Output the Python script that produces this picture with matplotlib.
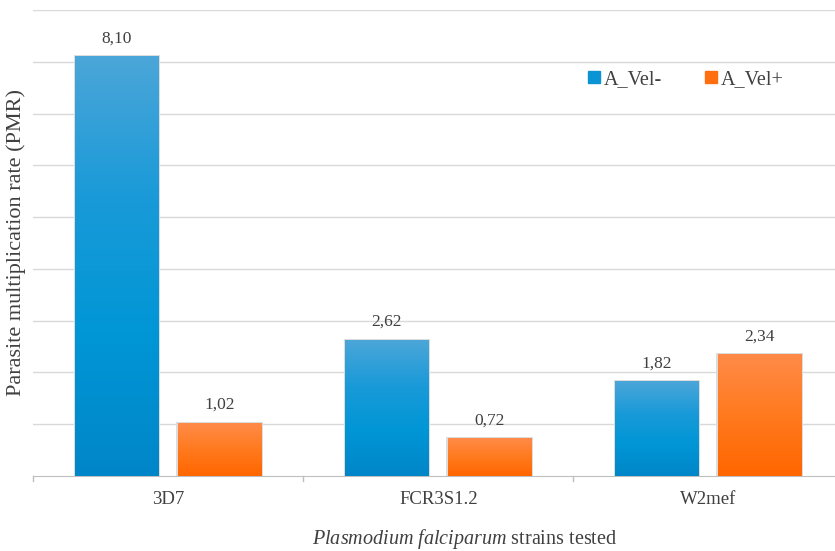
import matplotlib.pyplot as plt
import numpy as np
from matplotlib.colors import LinearSegmentedColormap
from matplotlib.lines import Line2D

plt.rcParams['font.family'] = ['Liberation Serif', 'DejaVu Serif']
plt.rcParams['mathtext.fontset'] = 'custom'
plt.rcParams['mathtext.rm'] = 'Liberation Serif'
plt.rcParams['mathtext.it'] = 'Liberation Serif:italic'

strains = ['3D7', 'FCR3S1.2', 'W2mef']
vel_minus = [8.10, 2.62, 1.82]
vel_plus = [1.02, 0.72, 2.34]
series_names = ['A_Vel-', 'A_Vel+']

blue_map = LinearSegmentedColormap.from_list('blue', ['#0086c8', '#0096d6', '#1a9ad8', '#4ba6d9'])
orange_map = LinearSegmentedColormap.from_list('orange', ['#ff6600', '#ff7a1e', '#ff8b48'])


def fmt(v):
    return f'{v:.2f}'.replace('.', ',')


fig = plt.figure(figsize=(8.35, 5.51), dpi=100)
ax = fig.add_axes([0.040, 0.136, 0.970, 0.846])

x = np.arange(len(strains))
w = 0.311
gap = 0.035
bars_a = ax.bar(x - w / 2 - gap, vel_minus, w, color='none', zorder=3)
bars_b = ax.bar(x + w / 2 + gap, vel_plus, w, color='none', zorder=3)

grad = np.linspace(0, 1, 256).reshape(-1, 1)
for bars, cmap in [(bars_a, blue_map), (bars_b, orange_map)]:
    for b in bars:
        x0, h = b.get_x(), b.get_height()
        # faint shadow around the bar
        ax.bar(x0 + b.get_width() / 2, h + 0.03, b.get_width() + 0.01, color='#dcdcdc',
               zorder=2.5)
        ax.imshow(grad, cmap=cmap, origin='lower', aspect='auto',
                  extent=[x0, x0 + b.get_width(), 0, h], zorder=3)
        ax.text(x0 + b.get_width() / 2, h + 0.2, fmt(h), ha='center', va='bottom',
                fontsize=12.5, color='#404040', zorder=4)

ax.set_xlim(-0.5, 2.5)
ax.set_ylim(0, 9)
ax.set_yticks(range(1, 10))
ax.yaxis.grid(True, color='#d9d9d9', lw=1)
ax.set_axisbelow(True)
ax.tick_params(axis='y', length=0, labelleft=False)
for s in ['top', 'right', 'left']:
    ax.spines[s].set_visible(False)
ax.spines['bottom'].set_color('#bfbfbf')

ax.set_xticks(x)
ax.set_xticklabels(strains, fontsize=13.5, color='#404040')
ax.tick_params(axis='x', length=0, pad=11)
for b in [-0.5, 0.5, 1.5, 2.5]:
    ax.plot([b, b], [0, -0.1], color='#bfbfbf', lw=1, clip_on=False)

ax.set_ylabel('Parasite multiplication rate (PMR)', fontsize=16, color='#404040',
              labelpad=5)
fig.text(0.557, 0.0, r'$\it{Plasmodium\ falciparum}$ strains tested',
         ha='center', va='bottom', fontsize=14.5, color='#404040')

handles = [Line2D([], [], marker='s', ls='', markersize=8, color=c)
           for c in ['#0a94d4', '#ff6f10']]
fig.legend(handles, series_names, loc='center', bbox_to_anchor=(0.82, 0.855), ncol=2,
           frameon=False, fontsize=14.5, handletextpad=0.1, columnspacing=2.0,
           handlelength=0.8, labelcolor='#404040')

fig.savefig('out.png', dpi=100)
